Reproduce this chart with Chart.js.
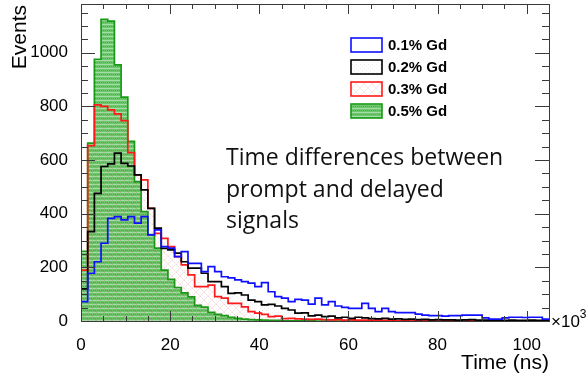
<!DOCTYPE html>
<html>
<head>
<meta charset="utf-8">
<script src="https://cdn.jsdelivr.net/npm/chart.js@4.4.1/dist/chart.umd.min.js"></script>
<style>
  html, body { margin: 0; padding: 0; background: #fff; }
  #wrap { width: 587px; height: 376px; }
</style>
</head>
<body>
<div id="wrap"><canvas id="chart" width="587" height="376"></canvas></div>
<script>
// Data: 70 bins of 1.5 from 0 to 105 (axis in x10^3 ns)
const binWidth = 1.5;
const xMax = 105;
const yMax = 1182;
const xTicks = [0, 20, 40, 60, 80, 100];
const yTicks = [0, 200, 400, 600, 800, 1000];
const seriesLabels = ['0.1% Gd', '0.2% Gd', '0.3% Gd', '0.5% Gd'];

const gd01 = [72, 178, 221, 290, 383, 389, 377, 389, 365, 389,
  321, 340, 277, 272, 240, 259, 215, 215, 184, 203,
  184, 165, 161, 153, 147, 141, 128, 143, 109, 91,
  85, 72, 81, 78, 63, 85, 60, 72, 56, 51,
  47, 47, 66, 47, 35, 47, 35, 31, 31, 31,
  26, 22, 20, 20, 18, 20, 20, 22, 22, 22,
  12, 7, 7, 12, 14, 14, 13, 14, 14, 7];

const gd02 = [120, 333, 476, 576, 586, 626, 588, 578, 545, 489,
  420, 346, 271, 265, 253, 221, 197, 197, 178, 147,
  147, 128, 103, 105, 97, 78, 72, 60, 62, 56,
  47, 41, 29, 30, 19, 22, 16, 18, 12, 14,
  10, 14, 12, 9, 8, 10, 7, 8, 6, 7,
  5, 6, 4, 5, 4, 4, 3, 4, 5, 3,
  3, 2, 3, 2, 3, 2, 2, 3, 2, 2];

const gd03 = [190, 654, 806, 800, 787, 772, 747, 628, 545, 526,
  420, 327, 308, 277, 240, 209, 172, 128, 128, 134,
  91, 85, 66, 66, 53, 35, 29, 25, 16, 18,
  9, 10, 8, 7, 6, 7, 5, 4, 5, 3,
  4, 3, 3, 2, 3, 2, 2, 1, 2, 1,
  1, 1, 2, 1, 1, 1, 1, 0, 1, 1,
  1, 0, 1, 0, 1, 1, 0, 1, 0, 0];

const gd05 = [260, 663, 976, 1125, 1118, 955, 835, 670, 520, 408,
  322, 272, 190, 155, 125, 105, 90, 58, 52, 32,
  25, 20, 14, 10, 7, 5, 4, 3, 2, 2,
  1, 1, 1, 1, 1, 0, 0, 0, 0, 0,
  0, 0, 0, 0, 0, 0, 0, 0, 0, 0,
  0, 0, 0, 0, 0, 0, 0, 0, 0, 0,
  0, 0, 0, 0, 0, 0, 0, 0, 0, 0];

const FONT = '"Liberation Sans", Arial, Helvetica, sans-serif';

// turn a list of bin contents into step points (left edge of each bin + closing edge)
function toSteps(vals) {
  const pts = vals.map((v, i) => ({ x: i * binWidth, y: v }));
  pts.push({ x: vals.length * binWidth, y: vals[vals.length - 1] });
  return pts;
}

function makePattern(w, h, draw) {
  const c = document.createElement('canvas');
  c.width = w; c.height = h;
  const g = c.getContext('2d');
  draw(g);
  return g.createPattern(c, 'repeat');
}

// fill styles, roughly like the ROOT fill patterns
const greenFill = makePattern(4, 4, g => {
  g.fillStyle = '#6cc66c'; g.fillRect(0, 0, 4, 4);
  g.fillStyle = 'rgba(255,255,255,0.4)'; g.fillRect(0, 0, 4, 1);
  g.fillStyle = '#4fae4f'; g.fillRect(1, 2, 1, 1); g.fillRect(3, 2, 1, 1);
});
const redFill = makePattern(8, 8, g => {
  g.strokeStyle = 'rgba(255,60,60,0.12)'; g.lineWidth = 1;
  g.beginPath(); g.moveTo(0, 8); g.lineTo(8, 0); g.moveTo(0, 0); g.lineTo(8, 8); g.stroke();
});
const blackFill = makePattern(4, 4, g => {
  g.fillStyle = 'rgba(0,0,0,0.06)'; g.fillRect(0, 0, 1, 1); g.fillRect(2, 2, 1, 1);
});

const seriesStyles = [
  { color: '#1010ff', fill: false },
  { color: '#000000', fill: blackFill },
  { color: '#ff1a1a', fill: redFill },
  { color: '#179b17', fill: greenFill }
];
const seriesData = [gd01, gd02, gd03, gd05];

// frame, inward ticks, titles, legend and note
const decorations = {
  id: 'decorations',
  afterDraw(chart) {
    const ctx = chart.ctx;
    const a = chart.chartArea;
    const xs = chart.scales.x, ys = chart.scales.y;
    ctx.save();
    ctx.strokeStyle = '#3a3a3a';
    ctx.lineWidth = 1;
    ctx.beginPath();
    for (let v = 0; v <= xMax + 1e-9; v += 5) {
      const px = Math.round(xs.getPixelForValue(v)) + 0.5;
      const len = v % 20 === 0 ? 10 : 5;
      ctx.moveTo(px, a.bottom); ctx.lineTo(px, a.bottom - len);
      ctx.moveTo(px, a.top); ctx.lineTo(px, a.top + len);
    }
    for (let v = 0; v <= yMax; v += 50) {
      const py = Math.round(ys.getPixelForValue(v)) + 0.5;
      const len = v % 200 === 0 ? 14 : 7;
      ctx.moveTo(a.left, py); ctx.lineTo(a.left + len, py);
      ctx.moveTo(a.right, py); ctx.lineTo(a.right - len, py);
    }
    ctx.stroke();
    ctx.strokeRect(Math.round(a.left) + 0.5, Math.round(a.top) + 0.5,
      Math.round(a.right - a.left), Math.round(a.bottom - a.top));

    // axis titles
    ctx.fillStyle = '#000';
    ctx.font = '21px ' + FONT;
    ctx.textBaseline = 'alphabetic';
    ctx.textAlign = 'right';
    ctx.fillText('Time (ns)', a.right, 369);
    ctx.save();
    ctx.translate(26, a.top + 1);
    ctx.rotate(-Math.PI / 2);
    ctx.fillText('Events', 0, 0);
    ctx.restore();

    // x10^3 exponent label
    ctx.textAlign = 'left';
    ctx.font = '17px ' + FONT;
    ctx.fillText('\u00d710', a.right + 2, a.bottom + 6);
    const w10 = ctx.measureText('\u00d710').width;
    ctx.font = '12px ' + FONT;
    ctx.fillText('3', a.right + 2 + w10, a.bottom - 3);

    // legend
    ctx.font = 'bold 15px ' + FONT;
    ctx.textBaseline = 'middle';
    seriesLabels.forEach((lab, i) => {
      const cy = 45 + i * 22;
      const st = seriesStyles[i];
      ctx.fillStyle = st.fill || '#fff';
      ctx.fillRect(351, cy - 7, 31, 14);
      ctx.strokeStyle = st.color;
      ctx.lineWidth = 1.6;
      ctx.strokeRect(351, cy - 7, 31, 14);
      ctx.fillStyle = '#000';
      ctx.fillText(lab, 388, cy + 1);
    });

    // note
    ctx.font = '23px "Open Sans", sans-serif';
    ctx.fillStyle = '#111';
    ctx.fillText('Time differences between', 226, 158);
    ctx.fillText('prompt and delayed', 226, 190);
    ctx.fillText('signals', 226, 221);
    ctx.restore();
  }
};

new Chart(document.getElementById('chart'), {
  type: 'line',
  data: {
    datasets: seriesLabels.map((lab, i) => ({
      label: lab,
      data: toSteps(seriesData[i]),
      stepped: 'before',
      borderColor: seriesStyles[i].color,
      borderWidth: 1.7,
      backgroundColor: seriesStyles[i].fill || 'rgba(0,0,0,0)',
      fill: seriesStyles[i].fill ? 'origin' : false,
      pointRadius: 0,
      tension: 0
    }))
  },
  options: {
    responsive: false,
    animation: false,
    devicePixelRatio: 1,
    layout: { padding: { top: 4, right: 38, left: 0, bottom: 0 } },
    plugins: { legend: { display: false }, tooltip: { enabled: false } },
    scales: {
      x: {
        type: 'linear', min: 0, max: xMax,
        grid: { display: false }, border: { display: false },
        ticks: { padding: 6, maxRotation: 0, autoSkip: false,
          color: '#000', font: { family: FONT, size: 17 },
          callback: v => String(v) },
        afterBuildTicks: s => { s.ticks = xTicks.map(v => ({ value: v })); },
        afterFit: s => { s.height = 55; s.paddingLeft = 0; s.paddingRight = 0; }
      },
      y: {
        min: 0, max: yMax,
        grid: { display: false }, border: { display: false },
        ticks: { padding: 5, autoSkip: false,
          color: '#000', font: { family: FONT, size: 17 },
          callback: v => String(v) },
        afterBuildTicks: s => { s.ticks = yTicks.map(v => ({ value: v })); },
        afterFit: s => { s.width = 81; s.paddingTop = 0; s.paddingBottom = 0; }
      }
    }
  },
  plugins: [decorations]
});
</script>
</body>
</html>
